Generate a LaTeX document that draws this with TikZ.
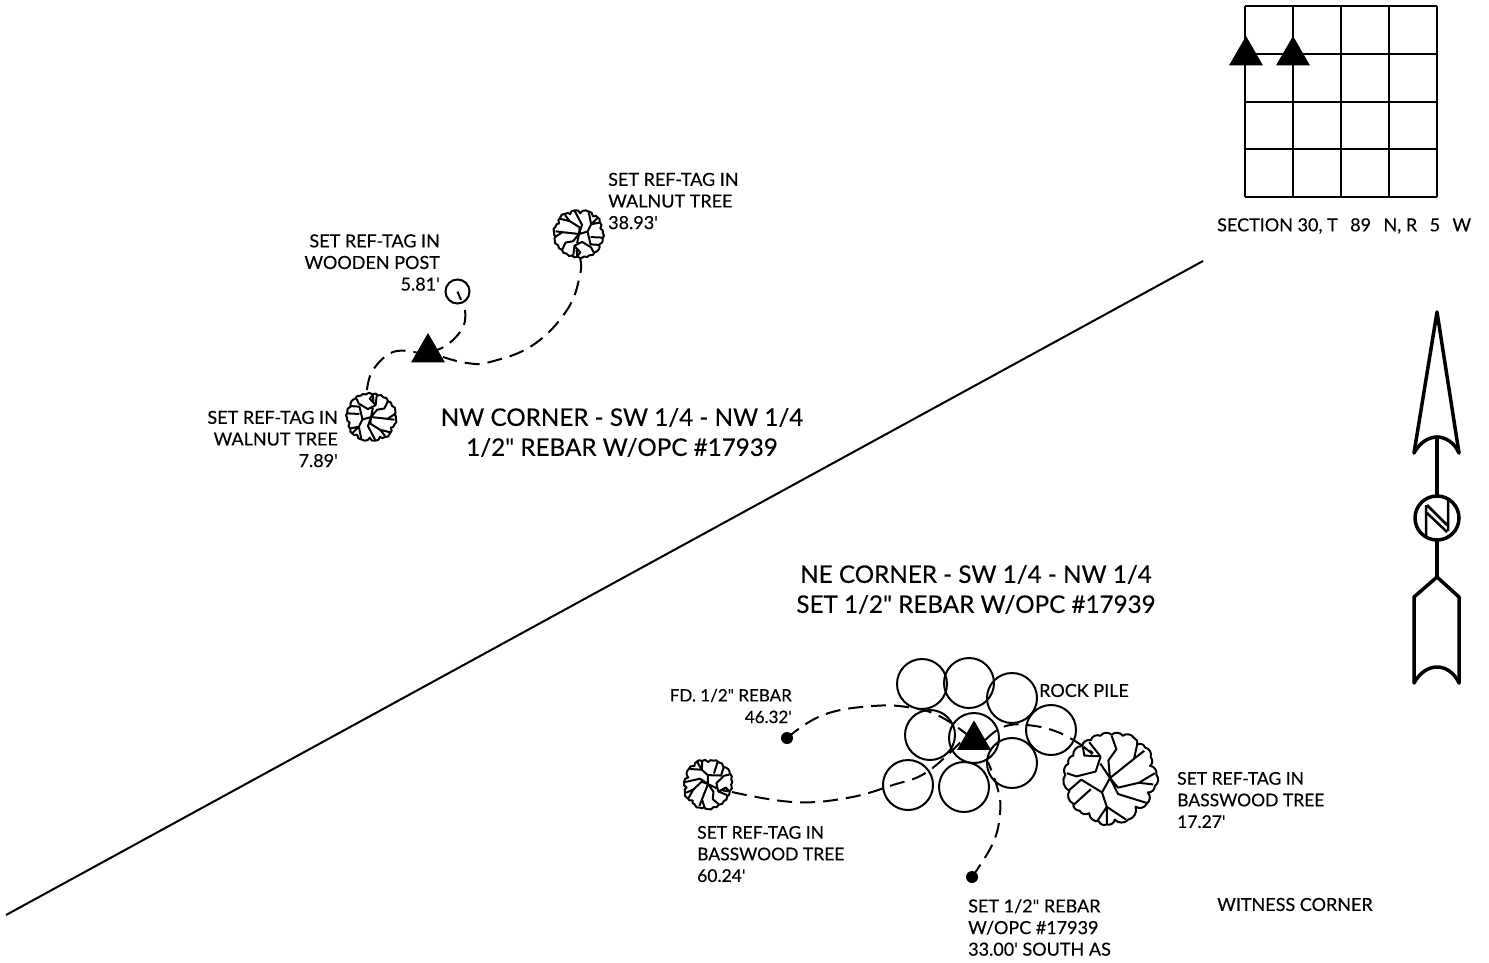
\documentclass[tikz,border=0pt]{standalone}
\usepackage{fontspec}
\newfontfamily\lato{Lato}[FakeBold=0.3]
\usetikzlibrary{shapes.geometric}
\tikzset{
  ink/.style={draw=black,line width=2pt},
  lab/.style={font=\lato\fontsize{18}{21.6}\selectfont,inner sep=0pt,text=black},
  bigtext/.style={font=\lato\fontsize{24.2}{30}\selectfont,inner sep=0pt,text=black,align=center},
  rock/.style={circle,draw=black,line width=2pt,minimum size=50pt,inner sep=0pt,outer sep=0pt},
  cornermark/.style={regular polygon,regular polygon sides=3,fill=black,minimum size=39.2pt,inner sep=0pt,outer sep=0pt},
  treebox/.style={circle,minimum size=50pt,inner sep=0pt,outer sep=0pt},
  rebardot/.style={circle,fill=black,minimum size=12pt,inner sep=0pt,outer sep=0pt},
  wit/.style={draw=black,line width=2pt,dash pattern=on 15pt off 8pt},
}
\newcommand\treesym[3]{%
 \begin{scope}[shift={(#1.center)},scale=#2,rotate=#3,xshift=-165pt,yshift=160pt,line join=round]
  \draw[line width=2pt,bend left=50] (78,60) to (105,42) to (135,28) to (170,25) to (205,28) to (240,35) to (250,55) to (275,65) to (292,95) to (290,122) to (310,150) to (305,185) to (283,205) to (280,240) to (245,250) to (222,290) to (180,290) to (155,305) to (130,295) to (100,270) to (70,262) to (50,240) to (38,200) to (25,150) to (35,115) to (50,90) to (78,60);
  \draw[line width=2pt] (80,62) -- (85,90) -- (135,92) -- (100,48) (82,62) -- (110,85)
    (30,145) -- (60,155) -- (120,140) -- (135,95) (135,115) -- (165,160)
    (170,28) -- (185,70) -- (160,105) -- (165,160)
    (165,160) -- (240,100) -- (250,55) (240,100) -- (272,75)
    (165,160) -- (190,190) -- (255,175) -- (305,145) (255,175) -- (300,180)
    (165,160) -- (190,210) -- (280,238)
    (165,160) -- (140,205) -- (155,250) -- (215,290) (155,250) -- (155,305) (155,250) -- (125,295)
    (140,205) -- (75,165) -- (35,200) (105,195) -- (50,245);
 \end{scope}}
\begin{document}
\begin{tikzpicture}[x=1pt,y=-1pt]
\useasboundingbox (0,0) rectangle (1489,962);
% section grid
\foreach \i in {0,1,2,3,4}{
  \draw[ink] (1245+48*\i,6) -- (1245+48*\i,197);
  \draw[ink] (1245,6+47.75*\i) -- (1437,6+47.75*\i);
}
\node[cornermark] (s1) at (1246,55.6) {};
\node[cornermark] (s2) at (1293,55.6) {};
\node[lab,anchor=west] (sec) at (1217,226) {SECTION 30, T\hspace{7.8pt} 89\hspace{7.8pt} N, R\hspace{7.8pt} 5\hspace{7.8pt} W};
% divider
\coordinate (d1) at (6,915);
\coordinate (d2) at (1203,261);
\draw[ink] (d1) -- (d2);
% NW corner
\node[cornermark] (m1) at (428,352.6) {};
\node[circle,ink,minimum size=24pt,inner sep=0pt,outer sep=0pt] (post) at (457.5,291.5) {};
\draw[ink] (post.center) -- (461,300);
\node[treebox] (t1) at (579,234) {};
\node[treebox] (t2) at (371,417) {};
\treesym{t1}{.172}{135}
\treesym{t2}{.172}{-45}
\coordinate (p1) at (465,310);
\coordinate (q1) at (580,258);
\coordinate (r1) at (367,390);
\coordinate (m1e) at (443,357);
\draw[wit] plot[smooth,tension=.7] coordinates {(p1) (463,327) (447,345) (m1)};
\draw[wit] plot[smooth,tension=.7] coordinates {(q1) (580,275) (567,310) (533,345) (490,362) (467,363) (m1e)};
\draw[wit] plot[smooth,tension=.7] coordinates {(r1) (373,370) (393,352) (m1.west)};
\node[lab,anchor=west,align=left] (l1) at (608,201) {SET REF-TAG IN\\WALNUT TREE\\38.93'};
\node[lab,anchor=east,align=right] (l2) at (440,262.5) {SET REF-TAG IN\\WOODEN POST\\5.81'};
\node[lab,anchor=east,align=right] (l3) at (338,439) {SET REF-TAG IN\\WALNUT TREE\\7.89'};
\node[bigtext] (h1) at (622,432.5) {NW CORNER - SW 1/4 - NW 1/4\\1/2" REBAR W/OPC \#17939};
% NE corner
\node[bigtext] (h2) at (976,589.5) {NE CORNER - SW 1/4 - NW 1/4\\SET 1/2" REBAR W/OPC \#17939};
\node[rock] (c1) at (922,684) {};
\node[rock] (c2) at (969,683) {};
\node[rock] (c3) at (1012,698) {};
\node[rock] (c4) at (930,735) {};
\node[rock] (c5) at (974,738) {};
\node[rock] (c6) at (1051,730) {};
\node[rock] (c7) at (1012,763) {};
\node[rock] (c8) at (908,785) {};
\node[rock] (c9) at (964,787) {};
\node[cornermark] (m2) at (974,740) {};
\node[treebox] (t3) at (708,784) {};
\node[treebox,minimum size=96pt] (t4) at (1110,778) {};
\treesym{t3}{.172}{-150}
\treesym{t4}{.32}{0}
\node[rebardot] (b1) at (787,738) {};
\node[rebardot] (b2) at (972,877) {};
\coordinate (t3e) at (732,792);
\coordinate (t4w) at (1093,753);
\draw[wit] plot[smooth,tension=.7] coordinates {(b1) (823,715) (873,706) (913,708) (943,718) (m2)};
\draw[wit] plot[smooth,tension=.7] coordinates {(t3e) (793,802) (847,798) (893,785) (927,772) (m2.west)};
\draw[wit] plot[smooth,tension=.7] coordinates {(m2.east) (1003,727) (1027,725) (1060,733) (t4w)};
\draw[wit] plot[smooth,tension=.7] coordinates {(b2) (993,843) (1000,813) (998,790) (988,762)};
\node[lab,anchor=east,align=right,font=\lato\fontsize{17}{21.6}\selectfont] (l4) at (792,706) {FD. 1/2" REBAR\\46.32'};
\node[lab,anchor=west] (l5) at (1039,690.5) {ROCK PILE};
\node[lab,anchor=west,align=left,font=\lato\fontsize{17.5}{21.6}\selectfont] (l6) at (1177,800) {SET REF-TAG IN\\BASSWOOD TREE\\17.27'};
\node[lab,anchor=west,align=left,font=\lato\fontsize{17.5}{21.6}\selectfont] (l7) at (697,854) {SET REF-TAG IN\\BASSWOOD TREE\\60.24'};
\node[lab,anchor=west,align=left] (l8) at (968,927.5) {SET 1/2" REBAR\\W/OPC \#17939\\33.00' SOUTH AS};
\node[lab,anchor=west] (l9) at (1217,904.5) {WITNESS CORNER};
% north arrow
\begin{scope}[line width=3.5pt,line cap=round,line join=round]
\coordinate (na) at (1437,312);
\coordinate (nl) at (1414,453);
\coordinate (nr) at (1459,453);
\node[circle,draw=black,line width=3.5pt,minimum size=44pt,inner sep=0pt,outer sep=0pt] (nc) at (1437,518) {};
\draw (nl) -- (na) -- (nr);
\draw (nl) .. controls (1420,442) and (1429,437) .. (1437,437) coordinate (ntop) .. controls (1445,437) and (1454,442) .. (nr);
\draw (ntop) -- (nc.north);
\draw (nc.south) -- (1437,577) coordinate (nb);
\draw (1414,683) -- (1414,597) -- (nb) -- (1459,597) -- (1459,683);
\draw (1414,683) .. controls (1420,672) and (1429,667) .. (1437,667) .. controls (1445,667) and (1454,672) .. (1459,683);
\draw[line width=2.5pt,line cap=butt] (1426,505) -- (1426,538) (1448,498) -- (1448,531) (1427,505) -- (1447,525) (1427,513) -- (1447,532);
\end{scope}
\end{tikzpicture}
\end{document}
